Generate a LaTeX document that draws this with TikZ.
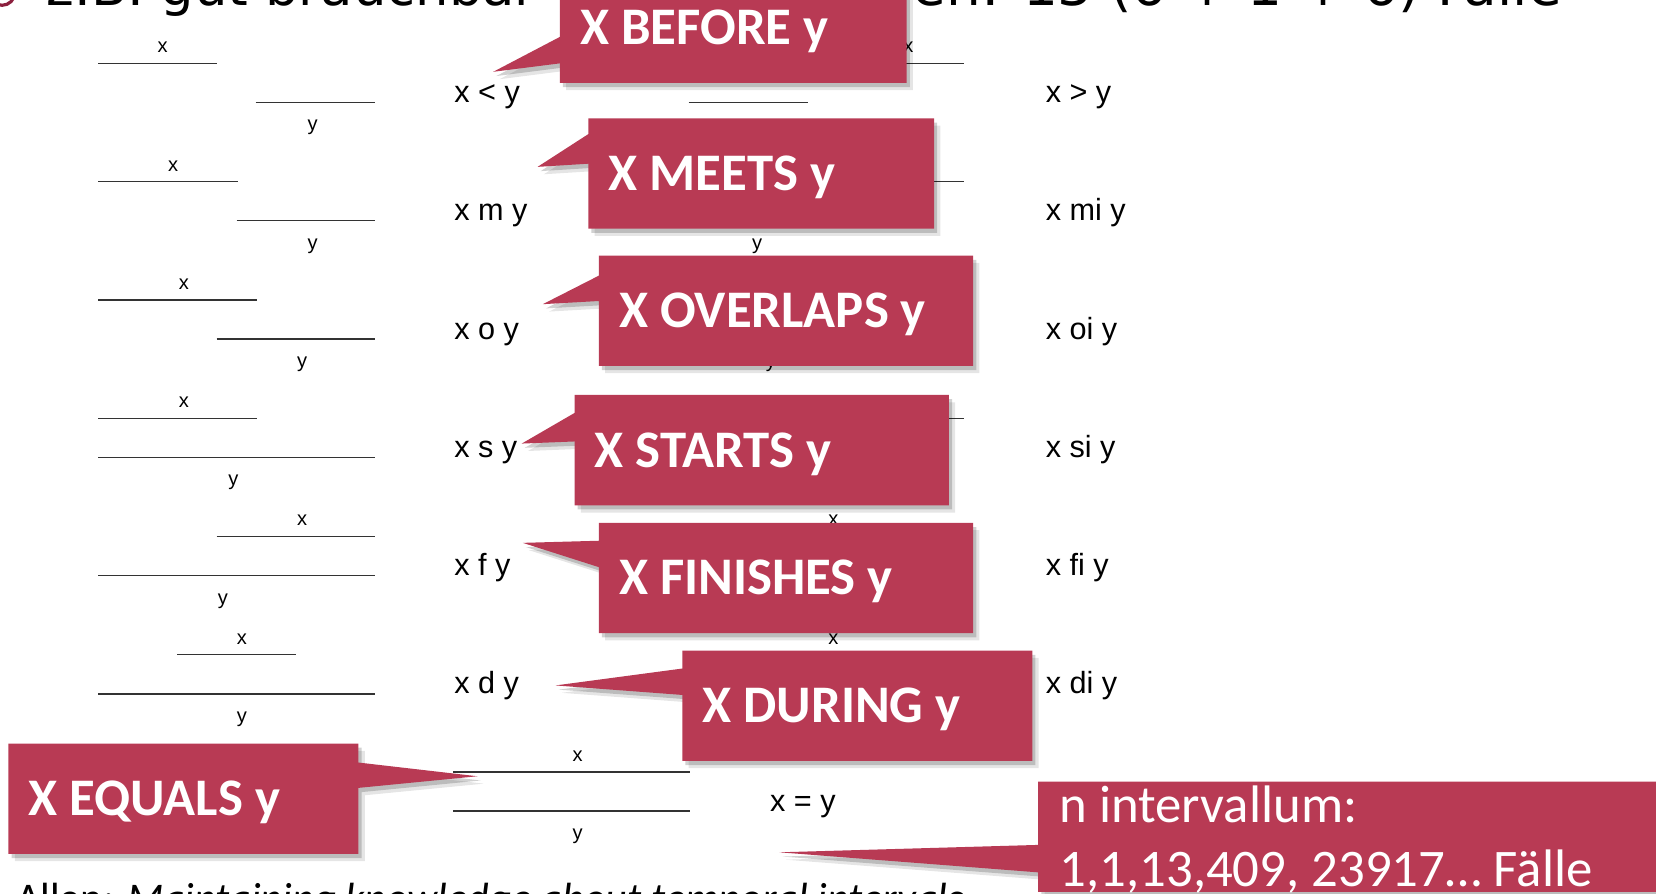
\documentclass[tikz,border=0pt]{standalone}
\usepackage{fontspec}
\setmainfont{Carlito}
\newfontfamily\headfont{DejaVu Sans}
\newfontfamily\relfont[WordSpace=2.4]{Liberation Sans}
\newfontfamily\labfont{Liberation Sans}
\usetikzlibrary{calc,shadows}

\definecolor{callred}{RGB}{184,58,84}
\definecolor{bulletred}{RGB}{140,32,62}

\pgfdeclarelayer{front}
\pgfsetlayers{main,front}

\tikzset{
  ival/.style={line width=1.3pt,color=black!80},
  ilab/.style={font=\labfont\fontsize{19}{19}\selectfont,inner sep=0pt,anchor=base},
  rel/.style={font=\relfont\fontsize{29}{29}\selectfont,inner sep=0pt,anchor=base west},
  callbox/.style={rectangle,inner xsep=19pt,inner ysep=0pt,minimum height=104pt,
    text width=#1,text height=32pt,text depth=0pt,align=flush left,text=white,
    font=\bfseries\fontsize{50}{60}\selectfont,anchor=north west},
  callfill/.style={fill=callred,
    drop shadow={shadow xshift=3pt,shadow yshift=-4pt,fill=black,opacity=.18},
    drop shadow={shadow xshift=6pt,shadow yshift=-7pt,fill=black,opacity=.10}}
}

% callout with the wedge on the left side: name, tip, upper and lower base offset
\newcommand{\wedgeleft}[4]{%
  \fill[callfill] (#1.north west) -- (#1.north east) -- (#1.south east) -- (#1.south west)
    -- ($(#1.north west)+(0,#4)$) -- (#2) -- ($(#1.north west)+(0,#3)$) -- cycle;}
% callout with the wedge on the right side
\newcommand{\wedgeright}[4]{%
  \fill[callfill] (#1.north west) -- (#1.north east) -- ($(#1.north east)+(0,#3)$)
    -- (#2) -- ($(#1.north east)+(0,#4)$) -- (#1.south east) -- (#1.south west) -- cycle;}

\begin{document}
\begin{tikzpicture}[x=1pt,y=-1pt]
\useasboundingbox (0,0) rectangle (1568,846);
\clip (0,0) rectangle (1568,846);

% title line, cut off at the top
\draw[bulletred,line width=3pt] (2,-7) circle[radius=12pt];
\node[font=\headfont\fontsize{50}{50}\selectfont,inner sep=0pt,anchor=base west] (headl) at (44,5) {z.B. gut brauchbar};
\node[font=\headfont\fontsize{52}{52}\selectfont,inner sep=0pt,anchor=base west] (headr) at (864,5) {en: 13 (6 + 1 + 6) Fälle};

% left column: x interval, y interval, labels, relation
\foreach \xa/\xb/\xl/\ya/\yb/\yl/\r/\rname [count=\i] in {
   93/205/154/242/355/296/60/{x < y},
   93/225/164/224/355/296/172/{x m y},
   93/243/174/205/355/286/284/{x o y},
   93/243/174/93/355/221/396/{x s y},
   205/355/286/93/355/211/508/{x f y},
   168/280/229/93/355/229/620/{x d y}}{
  \draw[ival] (\xa,\r) -- (\xb,\r);
  \draw[ival] (\ya,\r+37) -- (\yb,\r+37);
  \node[ilab] (xl\i) at (\xl,\r-10) {x};
  \node[ilab] (yl\i) at (\yl,\r+64) {y};
  \node[rel] (rl\i) at (430,\r+37) {\rname};
}

% right column: the inverse relations
\foreach \xa/\xb/\xl/\ya/\yb/\yl/\r/\rname [count=\i] in {
   800/913/860/652/765/708/60/{x > y},
   783/913/851/652/783/717/172/{x mi y},
   763/913/842/652/802/730/284/{x oi y},
   652/913/789/652/802/727/396/{x si y},
   652/913/789/763/913/838/508/{x fi y},
   652/913/789/727/839/783/620/{x di y}}{
  \draw[ival] (\xa,\r) -- (\xb,\r);
  \draw[ival] (\ya,\r+37) -- (\yb,\r+37);
  \node[ilab] (xr\i) at (\xl,\r-10) {x};
  \node[ilab] (yr\i) at (\yl,\r+64) {y};
  \node[rel] (rr\i) at (990,\r+37) {\rname};
}

% equals
\draw[ival] (429,731) -- (653,731);
\draw[ival] (429,768) -- (653,768);
\node[ilab] (xeq) at (547,721) {x};
\node[ilab] (yeq) at (547,795) {y};
\node[rel] (releq) at (729,768) {x = y};

% reference, cut off at the bottom
\node[font=\fontsize{40}{40}\selectfont,inner sep=0pt,anchor=base west] (cite) at (15,864) {Allen: \textit{Maintaining knowledge about temporal intervals}};

% callout texts
\begin{pgfonlayer}{front}
\node[callbox=290pt] (before) at (530,-26) {X BEFORE y};
\node[callbox=289pt] (meets) at (557,112) {X MEETS y};
\node[callbox=316pt] (overlaps) at (567,242) {X OVERLAPS y};
\node[callbox=316pt] (starts) at (544,374) {X STARTS y};
\node[callbox=316pt] (finishes) at (567,495) {X FINISHES y};
\node[callbox=293pt] (during) at (646,616) {X DURING y};
\node[callbox=293pt] (equals) at (8,704) {X EQUALS y};
\node[callbox=600pt,font=\fontsize{50}{60}\selectfont,inner xsep=20pt,
  text height=39pt,text depth=65pt] (nint) at (983,740) {n intervallum:\\1,1,13,409, 23917… Fälle};
\end{pgfonlayer}

\coordinate (tipbefore) at (467,68);
\coordinate (tipmeets) at (509,158);
\coordinate (tipoverlaps) at (514,288);
\coordinate (tipstarts) at (494,420);
\coordinate (tipfinishes) at (495,514);
\coordinate (tipduring) at (526,649);
\coordinate (tipequals) at (452,735);
\coordinate (tipnint) at (738,807);

\wedgeleft{before}{tipbefore}{61}{86}
\wedgeleft{meets}{tipmeets}{15}{43}
\wedgeleft{overlaps}{tipoverlaps}{19}{43}
\wedgeleft{starts}{tipstarts}{17}{44}
\wedgeleft{finishes}{tipfinishes}{17}{42}
\wedgeleft{during}{tipduring}{17}{42}
\wedgeright{equals}{tipequals}{18}{42}
\wedgeleft{nint}{tipnint}{60}{86}

\end{tikzpicture}
\end{document}
